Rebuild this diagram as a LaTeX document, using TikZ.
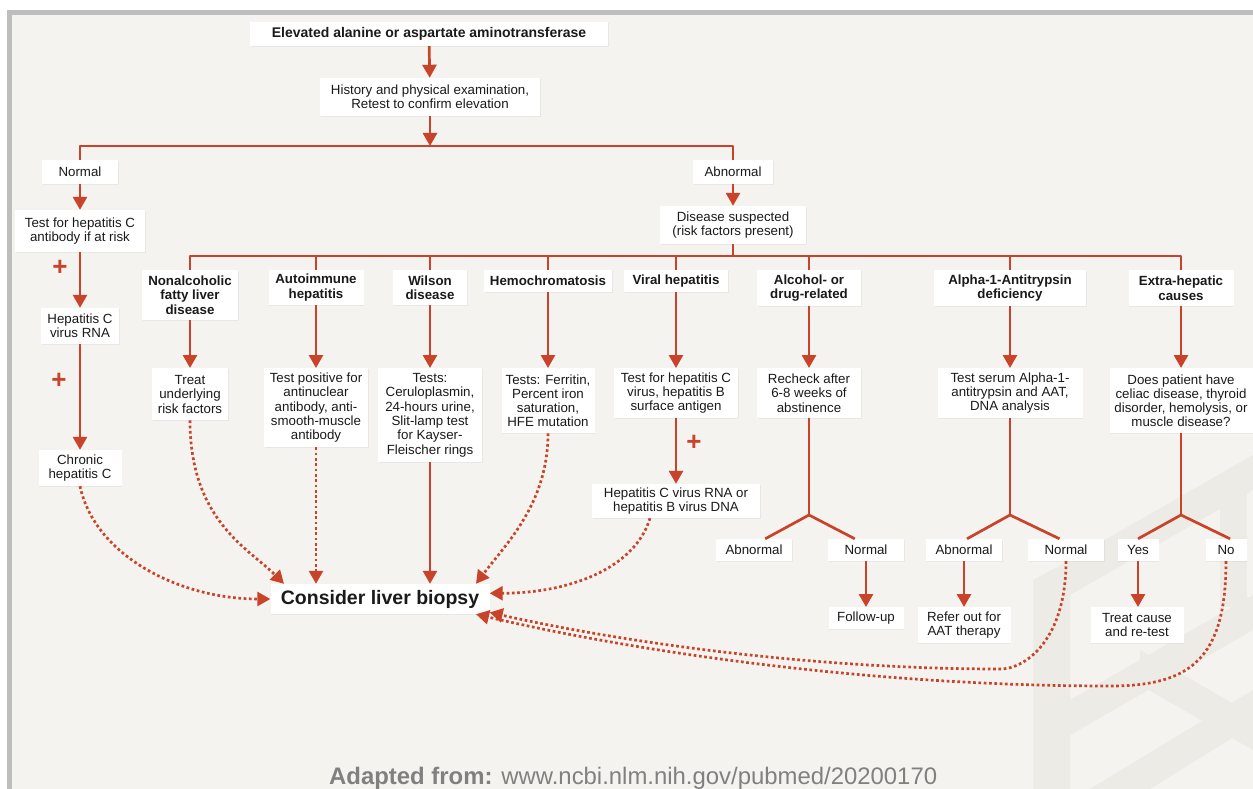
\documentclass[tikz,border=0pt]{standalone}
\usepackage{fontspec}
\setmainfont{Liberation Sans}
\usetikzlibrary{arrows.meta,shadows}
\definecolor{accent}{HTML}{C9432A}
\definecolor{paper}{HTML}{F4F3EF}
\definecolor{rim}{HTML}{BEBEBE}
\definecolor{logo}{HTML}{EDEBE6}
\definecolor{ink}{HTML}{1A1A1A}
\definecolor{foot}{HTML}{808080}
\begin{document}
\begin{tikzpicture}[
    x=1pt, y=-1pt,
    box/.style={fill=white, text=ink, inner xsep=4pt, inner ysep=3pt, align=center,
        font=\fontsize{13.3}{14.3}\selectfont,
        drop shadow={opacity=0.10, shadow xshift=0.8pt, shadow yshift=-0.8pt}},
    cat/.style={box, font=\bfseries\fontsize{13.3}{14.3}\selectfont, anchor=north},
    test/.style={box, anchor=north},
    sz/.style 2 args={minimum width=#1, minimum height=#2},
    flow/.style={draw=accent, line width=2.7pt, line join=round},
    arr/.style={flow, -{Triangle[length=13pt, width=14pt]}},
    dotarr/.style={arr, dash pattern=on 2.7pt off 2.6pt},
    plus/.style={text=accent, font=\bfseries\fontsize{26}{26}\selectfont, inner sep=0pt}
]
\useasboundingbox (0,0) rectangle (1253,789);
% frame and background
\fill[white] (0,0) rectangle (1253,789);
\fill[rim] (7,10) rectangle (1253,789);
\fill[paper] (12,15) rectangle (1253,789);
% faint logo in the corner
\fill[logo] (1033,580) -- (1070,560) -- (1070,789) -- (1033,789) -- cycle;
\fill[logo] (1070,560) -- (1253,455) -- (1253,490) -- (1070,595) -- cycle;
\fill[logo] (1070,700) -- (1253,595) -- (1253,630) -- (1070,735) -- cycle;
\fill[logo] (1140,650) -- (1253,715) -- (1253,750) -- (1140,685) -- cycle;
\fill[logo] (1090,789) -- (1253,690) -- (1253,725) -- (1150,789) -- cycle;
\fill[logo] (1220,475) -- (1247,475) -- (1247,607) -- (1220,607) -- cycle;

% Start
\node[box, sz={358pt}{24pt}, font=\bfseries\fontsize{14}{15}\selectfont] (top) at (429,34) {Elevated alanine or aspartate aminotransferase};
\node[box, sz={220pt}{38pt}] (hist) at (430,97) {History and physical examination,\\Retest to confirm elevation};
\node[box, sz={76pt}{24pt}] (norm) at (80,172) {Normal};
\node[box, sz={80pt}{24pt}] (abn) at (733,172) {Abnormal};
\node[box, sz={130pt}{42pt}] (testHC) at (80,231) {Test for hepatitis C\\antibody if at risk};
\node[box, sz={146pt}{38pt}] (dis) at (733,225) {Disease suspected\\(risk factors present)};

% Hepatitis C chain
\node[box, sz={78pt}{36pt}] (hcRNA) at (80,326) {Hepatitis C\\virus RNA};
\node[box, sz={83pt}{36pt}] (chron) at (80,468) {Chronic\\hepatitis C};
\node[plus] (plusA) at (60,268) {+};
\node[plus] (plusB) at (59,381) {+};

% Suspected causes
\node[cat, sz={96pt}{50pt}] (nafld) at (190,270) {Nonalcoholic\\fatty liver\\disease};
\node[cat, sz={95pt}{35pt}] (ai) at (316,270) {Autoimmune\\hepatitis};
\node[cat, sz={74pt}{35pt}] (wil) at (430,270) {Wilson\\disease};
\node[cat, sz={128pt}{22pt}] (hemo) at (548,270) {Hemochromatosis};
\node[cat, sz={104pt}{22pt}] (vir) at (676,270) {Viral hepatitis};
\node[cat, sz={104pt}{36pt}] (alc) at (809,270) {Alcohol- or\\drug-related};
\node[cat, sz={152pt}{36pt}] (aat) at (1010,270) {Alpha-1-Antitrypsin\\deficiency};
\node[cat, sz={105pt}{36pt}] (extra) at (1181,270) {Extra-hepatic\\causes};

% Tests
\node[test, sz={76pt}{52pt}] (nafld-t) at (190,368) {Treat\\underlying\\risk factors};
\node[test, sz={104pt}{79pt}] (ai-t) at (316,368) {Test positive for\\antinuclear\\antibody, anti-\\smooth-muscle\\antibody};
\node[test, sz={104pt}{94pt}] (wil-t) at (430,368) {Tests:\\Ceruloplasmin,\\24-hours urine,\\Slit-lamp test\\for Kayser-\\Fleischer rings};
\node[test, sz={93pt}{65pt}] (hemo-t) at (548,368) {Tests: Ferritin,\\Percent iron\\saturation,\\HFE mutation};
\node[test, sz={124pt}{50pt}] (vir-t) at (676,368) {Test for hepatitis C\\virus, hepatitis B\\surface antigen};
\node[test, sz={104pt}{50pt}] (alc-t) at (809,368) {Recheck after\\6-8 weeks of\\abstinence};
\node[test, sz={145pt}{50pt}] (aat-t) at (1010,368) {Test serum Alpha-1-\\antitrypsin and AAT,\\DNA analysis};
\node[test, sz={143pt}{65pt}] (extra-t) at (1181,368) {Does patient have\\celiac disease, thyroid\\disorder, hemolysis, or\\muscle disease?};

\node[box, sz={168pt}{34pt}] (virRNA) at (676,501) {Hepatitis C virus RNA or\\hepatitis B virus DNA};
\node[plus] (plusC) at (694,443) {+};

% Outcomes
\node[box, sz={76pt}{22pt}] (abnA) at (754,550) {Abnormal};
\node[box, sz={76pt}{22pt}] (norA) at (866,550) {Normal};
\node[box, sz={76pt}{22pt}] (abnB) at (964,550) {Abnormal};
\node[box, sz={76pt}{22pt}] (norB) at (1066,550) {Normal};
\node[box, sz={41pt}{22pt}] (yes) at (1138,550) {Yes};
\node[box, sz={41pt}{22pt}] (no) at (1226,550) {No};
\node[test, sz={75pt}{22pt}] (fup) at (866,607) {Follow-up};
\node[test, sz={93pt}{36pt}] (refer) at (964,607) {Refer out for\\AAT therapy};
\node[test, sz={93pt}{36pt}] (treatC) at (1137,607) {Treat cause\\and re-test};

\node[box, sz={219pt}{30pt}, font=\bfseries\fontsize{19.5}{21}\selectfont] (biopsy) at (380,599) {Consider liver biopsy};

\node[anchor=base west, text=foot, inner sep=0pt, font=\fontsize{23.9}{25}\selectfont] (src) at (329,784) {\textbf{Adapted from:} www.ncbi.nlm.nih.gov/pubmed/20200170};

% Connections - top
\coordinate (splitA) at (430,146);
\coordinate (splitB) at (733,256);
\draw[arr] (top) -- (hist);
\draw[arr] (hist) -- (splitA);
\draw[flow] (norm.north) |- (splitA) -| (abn.north);
\draw[arr] (norm) -- (testHC);
\draw[arr] (abn) -- (dis);
\draw[flow] (dis) -- (splitB);
\foreach \c in {nafld,ai,wil,hemo,vir,alc,aat,extra}
    \draw[flow] (splitB) -| (\c.north);

% Connections - causes to tests
\foreach \c in {nafld,ai,wil,hemo,vir,alc,aat,extra}
    \draw[arr] (\c.south) -- (\c-t.north);
\draw[arr] (testHC) -- (hcRNA);
\draw[arr] (hcRNA) -- (chron);
\draw[arr] (vir-t) -- (virRNA);

% Forks
\coordinate (forkA) at (809,515);
\coordinate (forkB) at (1010,515);
\coordinate (forkC) at (1181,515);
\draw[flow] (alc-t.south) -- (forkA);
\draw[flow] (abnA.45) -- (forkA) -- (norA.135);
\draw[flow] (aat-t.south) -- (forkB);
\draw[flow] (abnB.75) -- (forkB) -- (norB.120);
\draw[flow] (extra-t.south) -- (forkC);
\draw[flow] (yes.north) -- (forkC) -- (no.70);
\draw[arr] (norA.south) -- (norA.south |- fup.north);
\draw[arr] (abnB.south) -- (abnB.south |- refer.north);
\draw[arr] (yes.south) -- (yes.south |- treatC.north);

% Connections - to biopsy
\coordinate (loopA) at (1000,669);
\coordinate (loopB) at (1110,686);
\draw[dotarr] (chron.south) .. controls +(15,70) and +(-90,0) .. (biopsy.west);
\draw[dotarr] (nafld-t.south) .. controls +(0,100) and +(-35,-35) .. (biopsy.171);
\draw[dotarr] (ai-t.south) -- (ai-t.south |- biopsy.north);
\draw[arr] (wil-t.south) -- (wil-t.south |- biopsy.north);
\draw[dotarr] (hemo-t.south) .. controls +(0,70) and +(30,-40) .. (biopsy.9);
\draw[dotarr] ([xshift=-26pt]virRNA.south) .. controls +(-15,50) and +(80,0) .. (biopsy.3);
\draw[dotarr] (norB.south) .. controls +(0,78) and +(26,0) .. (loopA)
    .. controls +(-200,0) and +(120,27) .. (biopsy.-7);
\draw[dotarr] (no.south) .. controls +(0,98) and +(80,0) .. (loopB)
    .. controls +(-260,0) and +(140,33) .. (biopsy.-9);
\end{tikzpicture}
\end{document}
